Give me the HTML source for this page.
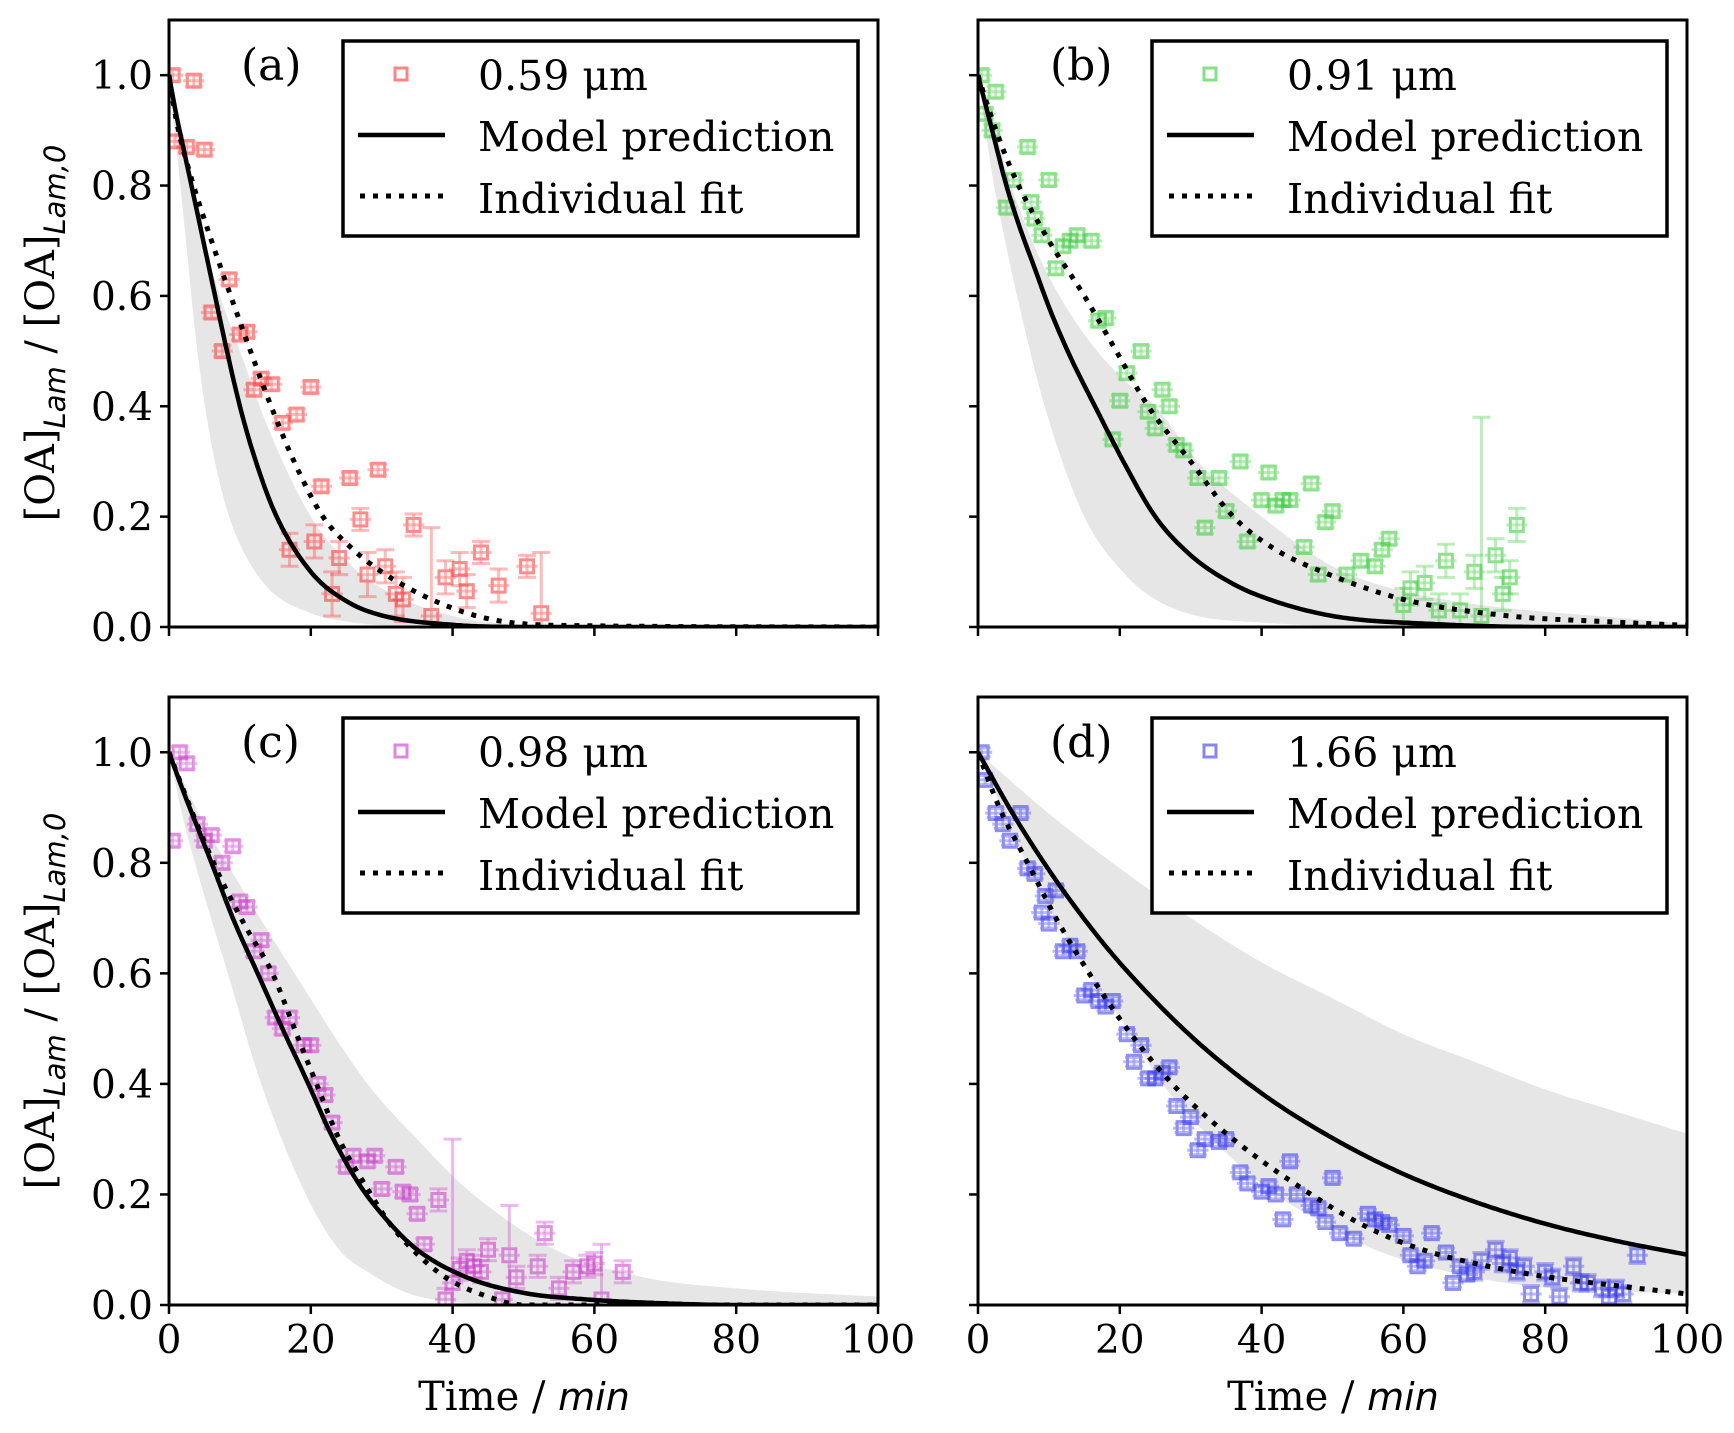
<!DOCTYPE html>
<html><head><meta charset="utf-8"><style>
html,body{margin:0;padding:0;background:#fff;}
svg{display:block;}
text{font-family:"DejaVu Serif","Liberation Serif",serif;}
</style></head><body>
<svg id="fig" width="1734" height="1433" viewBox="0 0 1734 1433" xmlns="http://www.w3.org/2000/svg"></svg>
<script>
// ---- data (time in min, normalized concentration) ----
const panelLabels = ["(a)","(b)","(c)","(d)"];
const sizeLabels = ["0.59 μm","0.91 μm","0.98 μm","1.66 μm"];
const colors = ["#ff3030","#33cc33","#cc33cc","#3333ee"];
const xTicks = [0,20,40,60,80,100];
const yTicks = [0.0,0.2,0.4,0.6,0.8,1.0];
const yTickLabels = ["0.0","0.2","0.4","0.6","0.8","1.0"];

const modelA_t=[0,1,2,4,6,8,10,12,15,20,25,30,40,50,100];
const modelA_y=[1,0.93,0.87,0.75,0.63,0.51,0.4,0.31,0.205,0.1,0.047,0.021,0.004,0,0];
const fitA_t=[0,1,3,6,8.7,11.5,14.4,18,21.7,26,30,37,45,55,100];
const fitA_y=[1,0.92,0.82,0.7,0.6,0.5,0.4,0.29,0.2,0.14,0.1,0.05,0.015,0.003,0];
const bandA_t=[0,2,4,6,8,10,14,20,25,30,40,50,100];
const bandA_lo=[1,0.75,0.5,0.33,0.22,0.15,0.07,0.025,0.01,0.003,0,0,0];
const bandA_hi=[1,0.85,0.77,0.65,0.57,0.5,0.36,0.2,0.12,0.07,0.02,0.005,0];

const modelB_t=[0,2,4,6,8,10,13,16.5,20.5,25,30,35,40,50,65,80,100];
const modelB_y=[1,0.9,0.8,0.72,0.65,0.58,0.49,0.4,0.3,0.2,0.13,0.085,0.055,0.02,0.005,0,0];
const fitB_t=[0,2,5,10,15,19.5,24,30,36,42,48.6,60,75,88,100];
const fitB_y=[1,0.92,0.82,0.7,0.6,0.5,0.4,0.3,0.2,0.14,0.1,0.05,0.02,0.01,0.003];
const bandB_t=[0,2,3.5,5.5,9.4,15,20.4,25,31,40,50,60,100];
const bandB_lo=[1,0.82,0.72,0.6,0.4,0.2,0.1,0.05,0.02,0.008,0.002,0,0];
const bandB_hi=[1,0.93,0.85,0.77,0.65,0.53,0.45,0.4,0.3,0.2,0.11,0.065,0.005];

const modelC_t=[0,2,6,9,12.5,16,19.3,23,27,31,35,42,50,59,70,80,100];
const modelC_y=[1,0.93,0.8,0.7,0.6,0.5,0.41,0.305,0.215,0.15,0.1,0.05,0.022,0.01,0.003,0,0];
const fitC_t=[0,3,7,11,14.6,18,20.8,24,28,31,34,39,45,50,60,100];
const fitC_y=[1,0.9,0.78,0.68,0.6,0.49,0.4,0.3,0.21,0.15,0.105,0.05,0.015,0,0,0];
const bandC_t=[0,2,5,8.3,13,19.3,24,28,34,40,50,100];
const bandC_lo=[1,0.88,0.74,0.6,0.4,0.2,0.1,0.06,0.02,0.006,0,0];
const bandC_hiT=[0,5,10,17.7,28,35,42,54.5,67,80,100];
const bandC_hi=[1,0.87,0.76,0.6,0.4,0.3,0.21,0.1,0.05,0.03,0.015];

const modelD_t=[0,5,10,15,20,30,40,50,60,70,80,90,100];
const modelD_y=[1,0.887,0.787,0.698,0.619,0.487,0.383,0.302,0.237,0.187,0.147,0.116,0.091];
const fitD_t=[0,3,7,11,15.7,21,27.4,36,47,55,62.7,72,80.7,90,100];
const fitD_y=[1,0.9,0.8,0.7,0.6,0.5,0.4,0.3,0.2,0.14,0.1,0.07,0.05,0.035,0.02];
const bandD_t=[0,5,10,15.7,20,26,33,42,50,56,70,81,90,100];
const bandD_lo=[1,0.85,0.72,0.6,0.52,0.4,0.3,0.2,0.14,0.1,0.05,0.03,0.025,0.02];
const bandD_hiT=[0,10,20,30,40,50,60,70,80,90,100];
const bandD_hi=[1,0.889,0.79,0.7,0.62,0.555,0.49,0.44,0.39,0.35,0.31];

const ptsA_t=[0.5,3.5,0.8,2.5,5,8.5,6,7.5,10,11,12,13,14.5,16,18,20,21.5,25.5,29.5,17,20.5,24,27,23,28,30.5,32,33,34.5,37,39,41,42,44,46.5,50.5,52.5];
const ptsA_y=[1.0,0.99,0.88,0.87,0.865,0.63,0.57,0.5,0.53,0.535,0.43,0.45,0.44,0.37,0.385,0.435,0.255,0.27,0.285,0.14,0.155,0.125,0.195,0.06,0.095,0.11,0.06,0.05,0.185,0.02,0.09,0.105,0.065,0.135,0.075,0.11,0.025];
const ptsA_e=[0.01,0.01,0.01,0.01,0.01,0.01,0.01,0.01,0.01,0.01,0.01,0.01,0.01,0.01,0.01,0.01,0.01,0.01,0.01,0.03,0.03,0.03,0.02,0.04,0.04,0.03,0.04,0.04,0.02,0.16,0.03,0.03,0.03,0.02,0.03,0.02,0.11];

const ptsB_t=[0.5,2.5,1,2,4,5,7,7.5,8,9,10,11,12,13,14,16,17,18,19,20,21,23,24,25,26,27,28,29,31,32,34,35,37,38,40,41,42,43,44,46,47,48,49,50,52,54,56,57,58,60,61,63,65,66,68,70,71,73,74,75,76];
const ptsB_y=[1.0,0.97,0.93,0.9,0.76,0.81,0.87,0.77,0.74,0.71,0.81,0.65,0.69,0.7,0.71,0.7,0.555,0.56,0.34,0.41,0.46,0.5,0.39,0.36,0.43,0.4,0.33,0.32,0.27,0.18,0.27,0.21,0.3,0.155,0.23,0.28,0.22,0.23,0.23,0.145,0.26,0.095,0.19,0.21,0.095,0.12,0.11,0.14,0.16,0.04,0.07,0.08,0.03,0.12,0.03,0.1,0.02,0.13,0.06,0.09,0.185];
const ptsB_e=ptsB_t.map((t,i)=> t===71?0.36:(t>=60?0.03:0.01));

const ptsC_t=[0.5,1.5,2.5,4,5,6,7.5,9,10,11,12,13,14,15,16,17,19,20,21,22,23,25,26,28,29,30,32,33,34,35,36,38,39,40,41,42,43,44,45,47,48,49,52,53,55,57,59,60,61,64];
const ptsC_y=[0.84,1.0,0.98,0.87,0.84,0.85,0.8,0.83,0.73,0.72,0.64,0.66,0.6,0.52,0.5,0.52,0.47,0.47,0.4,0.38,0.33,0.25,0.27,0.26,0.27,0.21,0.25,0.205,0.2,0.165,0.11,0.19,0.01,0.04,0.065,0.08,0.07,0.06,0.1,0.01,0.09,0.05,0.07,0.13,0.03,0.06,0.07,0.075,0.01,0.06];
const ptsC_e=ptsC_t.map(t=> t===40?0.26:(t===48?0.09:(t===61?0.1:(t>=38?0.02:0.01))));

const ptsD_t=[0.5,1,2.5,3.5,4.5,6,7,8,9.5,11,9,10,12,13,14,15,16,17,18,19,21,22,23,24,25,26,27,28,29,30,31,32,34,35,37,38,40,41,42,43,44,45,47,48,49,50,51,53,55,56,57,58,60,61,62,63,64,66,67,68,69,70,71,73,74,75,76,77,78,80,81,82,84,85,86,88,89,90,91,93];
const ptsD_y=[1.0,0.95,0.89,0.87,0.84,0.89,0.79,0.78,0.74,0.75,0.71,0.69,0.64,0.65,0.64,0.56,0.57,0.55,0.54,0.55,0.49,0.44,0.47,0.41,0.41,0.42,0.43,0.36,0.32,0.34,0.28,0.3,0.295,0.3,0.24,0.22,0.205,0.215,0.2,0.155,0.26,0.2,0.18,0.175,0.15,0.23,0.13,0.12,0.165,0.155,0.15,0.145,0.125,0.09,0.07,0.08,0.13,0.095,0.04,0.07,0.055,0.06,0.08,0.1,0.075,0.085,0.06,0.07,0.02,0.06,0.05,0.015,0.07,0.04,0.04,0.03,0.015,0.03,0.02,0.09];
const ptsD_e=ptsD_t.map(t=> t>=70?0.015:0.008);

const panels=[
 {L:169,R:878,T:20,B:627, m:[modelA_t,modelA_y], f:[fitA_t,fitA_y], lo:[bandA_t,bandA_lo], hi:[bandA_t,bandA_hi], p:[ptsA_t,ptsA_y,ptsA_e], yl:true, xl:false},
 {L:978,R:1687,T:20,B:627, m:[modelB_t,modelB_y], f:[fitB_t,fitB_y], lo:[bandB_t,bandB_lo], hi:[bandB_t,bandB_hi], p:[ptsB_t,ptsB_y,ptsB_e], yl:false, xl:false},
 {L:169,R:878,T:697,B:1305, m:[modelC_t,modelC_y], f:[fitC_t,fitC_y], lo:[bandC_t,bandC_lo], hi:[bandC_hiT,bandC_hi], p:[ptsC_t,ptsC_y,ptsC_e], yl:true, xl:true},
 {L:978,R:1687,T:697,B:1305, m:[modelD_t,modelD_y], f:[fitD_t,fitD_y], lo:[bandD_t,bandD_lo], hi:[bandD_hiT,bandD_hi], p:[ptsD_t,ptsD_y,ptsD_e], yl:false, xl:true}
];

const NS="http://www.w3.org/2000/svg";
const svg=document.getElementById('fig');
function mk(tag,attrs,parent){const e=document.createElementNS(NS,tag);for(const k in attrs)e.setAttribute(k,attrs[k]);(parent||svg).appendChild(e);return e;}
// monotone cubic (Fritsch-Carlson) interpolation, sampled densely
function monoSample(xs,ys,step){
  const n=xs.length, d=[], m=new Array(n);
  for(let i=0;i<n-1;i++) d.push((ys[i+1]-ys[i])/(xs[i+1]-xs[i]));
  m[0]=d[0]; m[n-1]=d[n-2];
  for(let i=1;i<n-1;i++){ m[i]=(d[i-1]*d[i]<=0)?0:(d[i-1]+d[i])/2; }
  for(let i=0;i<n-1;i++){
    if(d[i]===0){m[i]=0;m[i+1]=0;continue;}
    const a=m[i]/d[i], b=m[i+1]/d[i], s=a*a+b*b;
    if(s>9){const t=3/Math.sqrt(s); m[i]=t*a*d[i]; m[i+1]=t*b*d[i];}
  }
  const out=[];
  for(let i=0;i<n-1;i++){
    const h=xs[i+1]-xs[i], k=Math.max(2,Math.ceil(h/step));
    for(let j=0;j<k;j++){
      const t=j/k, t2=t*t, t3=t2*t;
      const y=(2*t3-3*t2+1)*ys[i]+(t3-2*t2+t)*h*m[i]+(-2*t3+3*t2)*ys[i+1]+(t3-t2)*h*m[i+1];
      out.push([xs[i]+t*h, y]);
    }
  }
  out.push([xs[n-1],ys[n-1]]);
  return out;
}

panels.forEach((P,pi)=>{
  const xs=t=>P.L+(P.R-P.L)*t/100;
  const ys=v=>P.B-(P.B-P.T)*v/1.1;
  const toPath=arr=>arr.map((p,i)=>(i?"L":"M")+xs(p[0]).toFixed(1)+","+ys(p[1]).toFixed(1)).join("");
  const g=mk('g',{});
  
  
  const cid='clip'+pi;
  const cp=mk('clipPath',{id:cid},g);mk('rect',{x:P.L,y:P.T,width:P.R-P.L,height:P.B-P.T},cp);
  const inner=mk('g',{'clip-path':'url(#'+cid+')'},g);
  // band
  const hiS=monoSample(P.hi[0],P.hi[1],0.5);
  const loS=monoSample(P.lo[0],P.lo[1],0.5).reverse();
  const band=mk('path',{d:toPath(hiS)+toPath(loS).replace(/^M/,"L")+"Z",fill:"#e6e6e6",stroke:"none"},inner);
  
  
  // points
  const col=colors[pi];
  const [pt,py,pe]=P.p;
  pt.forEach((t,i)=>{
    const cx=xs(t),cy=ys(py[i]);
    const pg=mk('g',{opacity:0.55},inner);
    
    
    const ex=xs(1.5)-xs(0), ey=ys(0)-ys(pe[i]);
    mk('line',{x1:cx-ex,x2:cx+ex,y1:cy,y2:cy,stroke:col,'stroke-width':3,opacity:0.6},pg);
    mk('line',{x1:cx,x2:cx,y1:cy-ey,y2:cy+ey,stroke:col,'stroke-width':3,opacity:0.6},pg);
    mk('line',{x1:cx-9,x2:cx+9,y1:cy-ey,y2:cy-ey,stroke:col,'stroke-width':3,opacity:0.6},pg);
    mk('line',{x1:cx-9,x2:cx+9,y1:cy+ey,y2:cy+ey,stroke:col,'stroke-width':3,opacity:0.6},pg);
    mk('rect',{x:cx-6.5,y:cy-6.5,width:13,height:13,fill:"none",stroke:col,'stroke-width':3},pg);
  });
  // model & fit
  const ml=mk('path',{d:toPath(monoSample(P.m[0],P.m[1],0.5)),fill:"none",stroke:"#000",'stroke-width':4.5},inner);
  
  
  const fl=mk('path',{d:toPath(monoSample(P.f[0],P.f[1],0.5)),fill:"none",stroke:"#000",'stroke-width':5,'stroke-dasharray':'5,8'},inner);
  
  
  // frame
  const fr=mk('rect',{x:P.L,y:P.T,width:P.R-P.L,height:P.B-P.T,fill:"none",stroke:"#000",'stroke-width':3},g);
  
  
  // ticks
  xTicks.forEach(t=>{
    mk('line',{x1:xs(t),x2:xs(t),y1:P.B,y2:P.B+9,stroke:"#000",'stroke-width':2.5},g);
    if(P.xl){const tx=mk('text',{x:xs(t),y:P.B+48,'font-size':39,'text-anchor':'middle'},g);tx.textContent=t;
      }
  });
  yTicks.forEach((v,i)=>{
    mk('line',{x1:P.L-9,x2:P.L,y1:ys(v),y2:ys(v),stroke:"#000",'stroke-width':2.5},g);
    if(P.yl){const tx=mk('text',{x:P.L-16,y:ys(v)+14,'font-size':39,'text-anchor':'end'},g);tx.textContent=yTickLabels[i];
      }
  });
  // panel label
  const pl=mk('text',{x:P.L+72,y:P.T+60,'font-size':44},g);pl.textContent=panelLabels[pi];
  
  // legend
  const lx=P.L+174, ly=P.T+21;
  const lg=mk('g',{},g);
  
  
  mk('rect',{x:lx,y:ly,width:515,height:195,fill:"#fff",stroke:"#000",'stroke-width':3.5},lg);
  mk('rect',{x:lx+52,y:ly+27,width:12,height:12,fill:"none",stroke:col,'stroke-width':3,opacity:0.6},lg);
  mk('line',{x1:lx+15,x2:lx+102,y1:ly+94,y2:ly+94,stroke:"#000",'stroke-width':4.5},lg);
  mk('line',{x1:lx+17,x2:lx+102,y1:ly+155,y2:ly+155,stroke:"#000",'stroke-width':5,'stroke-dasharray':'5,8'},lg);
  [[sizeLabels[pi],ly+49],["Model prediction",ly+110],["Individual fit",ly+172]].forEach(([s,y])=>{
    const t=mk('text',{x:lx+135,y:y,'font-size':41},lg);t.textContent=s;
    
  });
});

// axis titles
[[333],[1001]].forEach(([cy])=>{
  const t=mk('text',{transform:`translate(54,${cy}) rotate(-90)`,'font-size':40,'text-anchor':'middle'});
  
  t.innerHTML='[OA]<tspan dy="11" font-size="29" font-style="italic" font-family="DejaVu Sans, sans-serif">Lam</tspan><tspan dy="-11"> / [OA]</tspan><tspan dy="11" font-size="29" font-style="italic" font-family="DejaVu Sans, sans-serif">Lam,0</tspan>';
});
[[524],[1333]].forEach(([cx])=>{
  const t=mk('text',{x:cx,y:1410,'font-size':40,'text-anchor':'middle'});
  
  t.innerHTML='Time / <tspan font-style="italic" font-family="DejaVu Sans, sans-serif" font-size="38">min</tspan>';
});
</script>
</body></html>
